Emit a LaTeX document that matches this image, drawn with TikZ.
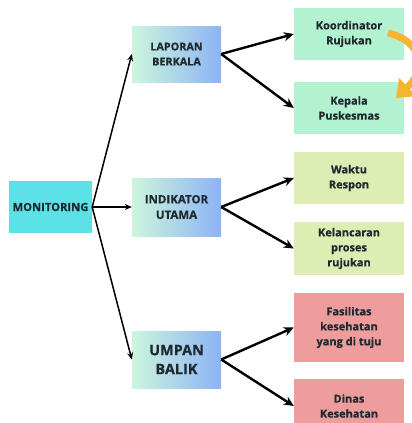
\documentclass[tikz,border=0pt]{standalone}
\usepackage{fontspec}
\setmainfont{Open Sans}[BoldFont={Open Sans Bold}, BoldFeatures={FakeBold=0.6}]
\usetikzlibrary{arrows.meta}

\definecolor{cyanbox}{HTML}{5CE1E6}
\definecolor{mintbox}{HTML}{B2F2D1}
\definecolor{limebox}{HTML}{DDEDB3}
\definecolor{rosebox}{HTML}{EE9C9C}
\definecolor{gradleft}{HTML}{CCF6DC}
\definecolor{gradright}{HTML}{8DB3F6}
\definecolor{inktext}{HTML}{1E2A30}
\definecolor{orangearrow}{HTML}{F6B530}

\begin{document}
\begin{tikzpicture}[x=1pt,y=-1pt,
    box/.style={rectangle, align=center, text=inktext, inner sep=2pt},
    midbox/.style={box, minimum width=89pt, left color=gradleft, right color=gradright},
    endbox/.style={box, minimum width=110pt, minimum height=52pt,
      font=\bfseries\fontsize{11}{15}\selectfont},
    branch/.style={line width=2.4pt, -{Stealth[length=10pt,width=9pt]}},
    fan/.style={line width=1.5pt, -{Stealth[length=7pt,width=6pt]}}]

    \clip (0,0) rectangle (412,423);

    % left
    \node[box, fill=cyanbox, minimum width=83pt, minimum height=52pt,
      font=\bfseries\fontsize{11.2}{13}\selectfont] (mon) at (50.5,207) {MONITORING};

    % middle
    \node[midbox, minimum height=56pt, font=\bfseries\fontsize{10.8}{15}\selectfont]
      (lap) at (176.5,54) {LAPORAN\\BERKALA};
    \node[midbox, minimum height=58pt, font=\bfseries\fontsize{11.5}{15.5}\selectfont]
      (ind) at (176.5,207) {INDIKATOR\\UTAMA};
    \node[midbox, minimum height=57pt, font=\bfseries\fontsize{14.5}{19}\selectfont]
      (ump) at (176.5,359.5) {UMPAN\\BALIK};

    % right
    \node[endbox, fill=mintbox] (koor) at (349,34) {Koordinator\\Rujukan};
    \node[endbox, fill=mintbox] (kep) at (349,108) {Kepala\\Puskesmas};
    \node[endbox, fill=limebox] (wak) at (349,178) {Waktu\\Respon};
    \node[endbox, fill=limebox, minimum height=53pt] (kel) at (349,248.5) {Kelancaran\\proses\\rujukan};
    \node[endbox, fill=rosebox, minimum height=69pt] (fas) at (349,327.5) {Fasilitas\\kesehatan\\yang di tuju};
    \node[endbox, fill=rosebox, minimum height=54pt] (din) at (349,406) {Dinas\\Kesehatan};

    \foreach \i in {lap, ind, ump}
    \draw[fan] (mon.east) -- (\i.west);

    \draw[branch] (lap.east) -- (koor.west);
    \draw[branch] (lap.east) -- (kep.west);
    \draw[branch] (ind.east) -- (wak.west);
    \draw[branch] (ind.east) -- (kel.west);
    \draw[branch] (ump.east) -- (fas.west);
    \draw[branch] (ump.east) -- (din.west);

    \draw[orangearrow, line width=7pt, -{Triangle[length=16pt,width=24pt]}]
      (388,33) .. controls (420,40) and (428,68) .. (396,98);

  \end{tikzpicture}
\end{document}
